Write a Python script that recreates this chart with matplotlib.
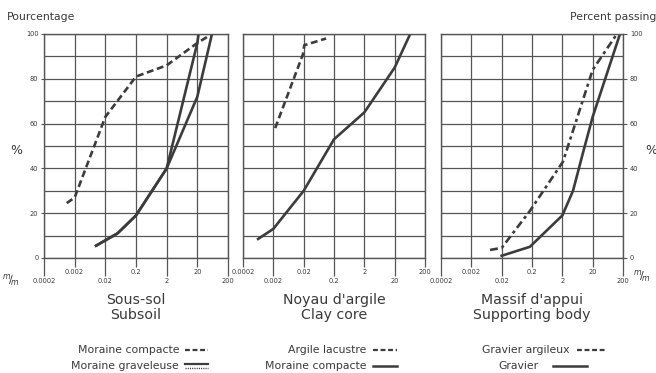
import matplotlib
matplotlib.use("Agg")
import matplotlib.pyplot as plt
from matplotlib.lines import Line2D

# ---------------- data ----------------
decade_ticks = [0.0002, 0.002, 0.02, 0.2, 2, 20, 200]
decade_labels = ["0.0002", "0.002", "0.02", "0.2", "2", "20", "200"]
y_major = [0, 20, 40, 60, 80, 100]
y_minor = [10, 30, 50, 70, 90]
y_labels = ["0", "20", "40", "60", "80", "100"]

panel_titles = ["Sous-sol\nSubsoil", "Noyau d'argile\nClay core", "Massif d'appui\nSupporting body"]

# Sous-sol
subsoil_compacte_x = [0.0011, 0.002, 0.02, 0.2, 2, 20, 60]
subsoil_compacte_y = [24.5, 27, 63, 81, 86, 96, 100]
subsoil_grav_a_x = [0.01, 0.05, 0.2, 2, 20, 22]
subsoil_grav_a_y = [5.5, 11, 19, 40, 96, 100]
subsoil_grav_b_x = [0.01, 0.05, 0.2, 2, 20, 60]
subsoil_grav_b_y = [5.5, 11, 19, 40, 72, 100]

# Noyau d'argile
core_lacustre_x = [0.0023, 0.019, 0.021, 0.11]
core_lacustre_y = [58, 91, 95, 98]
core_compacte_x = [0.00063, 0.002, 0.02, 0.2, 2, 20, 65]
core_compacte_y = [8.5, 13, 30, 53, 65, 85, 100]

# Massif d'appui
support_argileux_x = [0.0083, 0.02, 0.17, 2.1, 20, 126]
support_argileux_y = [3.6, 4.5, 21, 43, 84, 100]
support_gravier_x = [0.02, 0.17, 2.0, 4.5, 9.6, 20, 159]
support_gravier_y = [1, 5, 19, 30, 47, 63, 100]

legend_texts = [["Moraine compacte", "Moraine graveleuse"],
                ["Argile lacustre", "Moraine compacte"],
                ["Gravier argileux", "Gravier"]]

# ---------------- style ----------------
W, H = 656, 373
GC = "#555555"
LC = "#3c3c3c"
TC = "#3a3a3a"
LW = 1.9
DASH = (2.6, 1.4)
DASHDOT = (3.0, 1.4, 1.2, 1.4)

fig = plt.figure(figsize=(W / 100, H / 100), dpi=100)
fig.patch.set_facecolor("white")


def rect(l, r, t=34, b=258):
    return [l / W, 1 - b / H, (r - l) / W, (b - t) / H]


def fx(x):
    return x / W


def fy(y):
    return 1 - y / H


ax1 = fig.add_axes(rect(44, 228))
ax2 = fig.add_axes(rect(243, 425))
ax3 = fig.add_axes(rect(441, 623))
axes = [ax1, ax2, ax3]

for i, ax in enumerate(axes):
    ax.set_xscale("log")
    ax.set_xlim(decade_ticks[0], decade_ticks[-1])
    ax.set_ylim(0, 100)
    if i == 1:
        long_idx, short_idx = [1, 3, 5], [0, 2, 4, 6]
    else:
        long_idx, short_idx = [0, 2, 4, 6], [1, 3, 5]
    ax.set_xticks([decade_ticks[j] for j in long_idx],
                  [decade_labels[j] for j in long_idx])
    ax.set_xticks([decade_ticks[j] for j in short_idx],
                  [decade_labels[j] for j in short_idx], minor=True)
    ax.tick_params(axis="x", which="major", length=13, width=0.9, pad=1.5,
                   labelsize=4.8, color=GC, labelcolor=TC)
    ax.tick_params(axis="x", which="minor", length=6.5, width=0.9, pad=1.5,
                   labelsize=4.8, color=GC, labelcolor=TC)
    ax.set_yticks(y_major, y_labels)
    ax.set_yticks(y_minor, minor=True)
    ax.tick_params(axis="y", which="minor", length=0)
    ax.grid(True, which="both", color=GC, lw=0.9)
    for s in ax.spines.values():
        s.set_color(GC)
        s.set_linewidth(1.0)
    ax.set_axisbelow(True)
    if i == 0:
        ax.tick_params(axis="y", which="major", length=2.5, width=0.8, color=GC,
                       labelsize=4.8, labelcolor=TC, pad=1.5)
    elif i == 1:
        ax.tick_params(axis="y", which="major", length=0, labelleft=False)
    else:
        ax.tick_params(axis="y", which="major", length=3, width=0.8, color=GC,
                       labelsize=4.8, labelcolor=TC, pad=2,
                       left=False, labelleft=False, right=True, labelright=True)

# curves
ax1.plot(subsoil_compacte_x, subsoil_compacte_y, color=LC, lw=LW, dashes=DASH)
ax1.plot(subsoil_grav_a_x, subsoil_grav_a_y, color=LC, lw=LW)
ax1.plot(subsoil_grav_b_x, subsoil_grav_b_y, color=LC, lw=LW)

ax2.plot(core_lacustre_x, core_lacustre_y, color=LC, lw=LW, dashes=DASH)
ax2.plot(core_compacte_x, core_compacte_y, color=LC, lw=LW)

ax3.plot(support_argileux_x, support_argileux_y, color=LC, lw=LW, dashes=DASHDOT)
ax3.plot(support_gravier_x, support_gravier_y, color=LC, lw=LW)

# axis texts
fig.text(fx(7), fy(17), "Pourcentage", ha="left", va="center", fontsize=7.8, color=TC)
fig.text(fx(656), fy(17), "Percent passing", ha="right", va="center", fontsize=7.8, color=TC)
fig.text(fx(16), fy(150), "%", ha="center", va="center", fontsize=9, color=TC)
fig.text(fx(651), fy(150), "%", ha="center", va="center", fontsize=9, color=TC)
fig.text(fx(11), fy(280), r"$^{m}\!/\!_{m}$", ha="center", va="center", fontsize=8, color=TC)
fig.text(fx(642), fy(276), r"$^{m}\!/\!_{m}$", ha="center", va="center", fontsize=8, color=TC)

# panel titles
centers = [136, 334, 532]
for c, t in zip(centers, panel_titles):
    l1, l2 = t.split("\n")
    fig.text(fx(c), fy(300), l1, ha="center", va="center", fontsize=10.2, color=TC)
    fig.text(fx(c), fy(315), l2, ha="center", va="center", fontsize=10.2, color=TC)

# legends
LS = 7.8
# panel 1
fig.text(fx(180), fy(350), legend_texts[0][0], ha="right", va="center", fontsize=LS, color=TC)
fig.add_artist(Line2D([fx(185), fx(208)], [fy(350), fy(350)], color=LC, lw=1.6, dashes=(2.2, 1.2)))
fig.text(fx(179), fy(366), legend_texts[0][1], ha="right", va="center", fontsize=LS, color=TC)
fig.add_artist(Line2D([fx(185), fx(208)], [fy(364), fy(364)], color=LC, lw=1.6))
fig.add_artist(Line2D([fx(185), fx(208)], [fy(368), fy(368)], color=LC, lw=1.0, dashes=(0.8, 0.8)))
# panel 2
fig.text(fx(366), fy(350), legend_texts[1][0], ha="right", va="center", fontsize=LS, color=TC)
fig.add_artist(Line2D([fx(373), fx(397)], [fy(350), fy(350)], color=LC, lw=1.6, dashes=(2.2, 1.2)))
fig.text(fx(366), fy(366), legend_texts[1][1], ha="right", va="center", fontsize=LS, color=TC)
fig.add_artist(Line2D([fx(373), fx(397)], [fy(366), fy(366)], color=LC, lw=1.8))
# panel 3
fig.text(fx(570), fy(350), legend_texts[2][0], ha="right", va="center", fontsize=LS, color=TC)
fig.add_artist(Line2D([fx(577), fx(605)], [fy(350), fy(350)], color=LC, lw=1.6, dashes=(2.2, 1.2)))
fig.text(fx(518), fy(366), legend_texts[2][1], ha="center", va="center", fontsize=LS, color=TC)
fig.add_artist(Line2D([fx(553), fx(587)], [fy(366), fy(366)], color=LC, lw=1.8))

fig.savefig("out.png", dpi=100, facecolor="white")
